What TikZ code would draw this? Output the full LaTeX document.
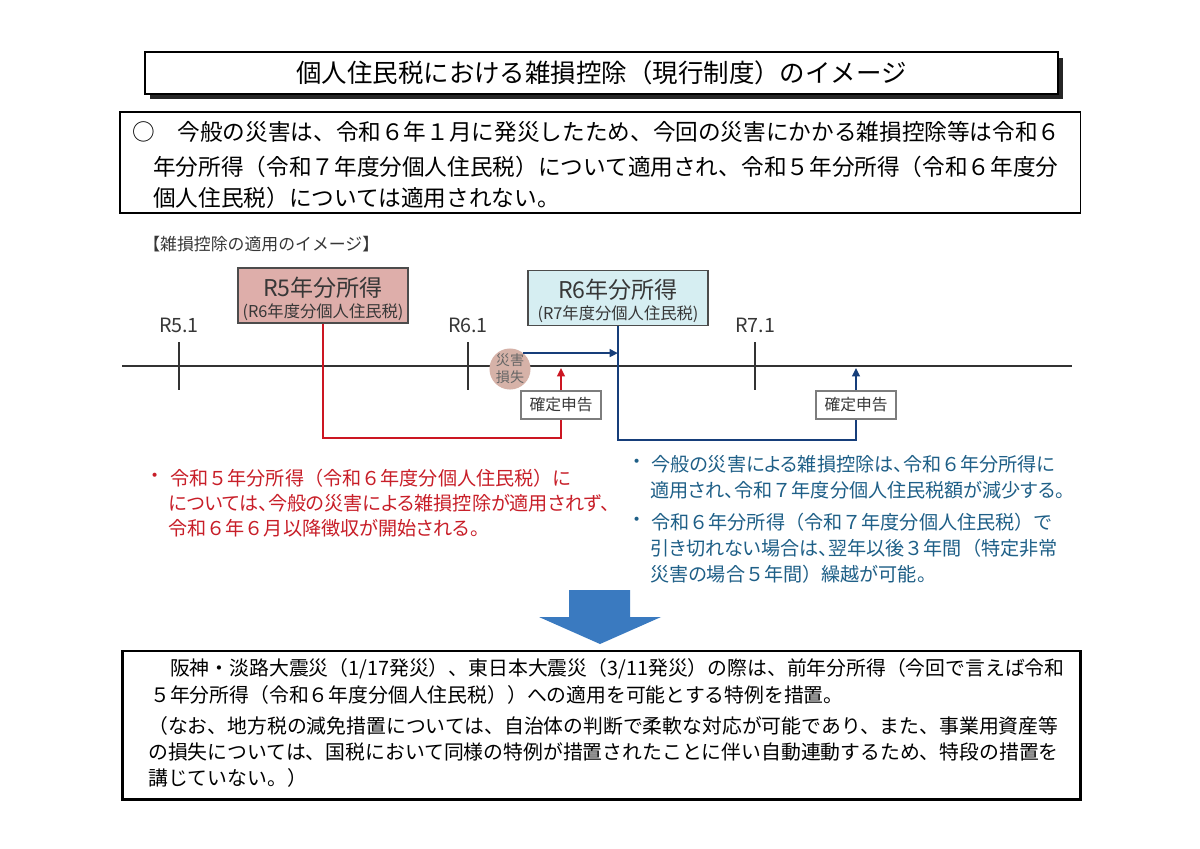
\documentclass[tikz,border=0pt]{standalone}
\usepackage{fontspec}
\setmainfont{Noto Sans CJK JP}
\newfontfamily\propjp[RawFeature=+palt]{Noto Sans CJK JP}
\newcommand\pleine[1]{{\rmfamily#1}}
\usetikzlibrary{positioning, arrows.meta, calc}
\definecolor{rosefond}{RGB}{222,174,170}
\definecolor{cyanfond}{RGB}{214,238,242}
\definecolor{rosecercle}{RGB}{214,178,168}
\definecolor{rougetrait}{RGB}{204,22,34}
\definecolor{bleutrait}{RGB}{22,62,122}
\definecolor{rougetexte}{RGB}{200,30,40}
\definecolor{bleutexte}{RGB}{30,95,135}
\definecolor{bleufleche}{RGB}{58,122,192}
\definecolor{grisboite}{RGB}{125,125,125}
\definecolor{gristexte}{RGB}{55,55,55}
\tikzset{
  ligne/.style={anchor=west, inner sep=0pt},
  cadre/.style={draw=black, inner sep=0pt},
  revenu/.style={draw=black!70, line width=0.8pt, inner sep=0pt, minimum height=1.375cm},
  declar/.style={draw=grisboite, line width=1.6pt, fill=white, minimum width=2cm, minimum height=0.7cm,
    inner sep=0pt, text=gristexte, font=\fontsize{11.2pt}{13pt}\selectfont},
  annee/.style={inner sep=0pt, text=gristexte, font=\fontsize{14pt}{16pt}\selectfont},
  trait/.style={line width=1.4pt},
  fleche/.style={line width=1.4pt, -{Triangle[length=6pt, width=5.5pt]}},
  rouge/.style={ligne, text=rougetexte, font=\propjp\fontsize{13.6pt}{16pt}\selectfont},
  bleu/.style={ligne, text=bleutexte, font=\propjp\fontsize{13.6pt}{16pt}\selectfont},
  haut/.style={ligne, font=\fontsize{16.1pt}{18pt}\selectfont},
  bas/.style={ligne, font=\fontsize{14.1pt}{16pt}\selectfont},
}

\begin{document}
\begin{tikzpicture}[x=0.025cm, y=-0.025cm]
  \useasboundingbox (0,0) rectangle (1200,848);
  \fill[white] (0,0) rectangle (1200,848);
  % titre avec ombre
  \fill[black!85] (150,58) rectangle (1063,99);
  \node[cadre, line width=1pt, fill=white, minimum width=22.825cm, minimum height=1.05cm,
    font=\fontsize{18.1pt}{20pt}\selectfont] (titre) at (601.5,73) {個人住民税における雑損控除（現行制度）のイメージ};
  % cadre du resume
  \node[cadre, line width=0.9pt, minimum width=24cm, minimum height=2.525cm] (resume) at (600,162.5) {};
  \node[haut] (h1) at (132,132) {○　今般の災害は、令和６年１月に発災したため、今回の災害にかかる雑損控除等は令和６};
  \node[haut] (h2) at (153,167) {年分所得（令和７年度分個人住民税）について適用され、令和５年分所得（令和６年度分};
  \node[haut] (h3) at (153,198) {個人住民税）については適用されない。};
  \node[ligne, text=gristexte, font=\fontsize{12pt}{14pt}\selectfont] (soustitre) at (143,244) {【雑損控除の適用のイメージ】};
  % revenus
  \node[revenu, fill=rosefond, minimum width=4.25cm] (r5) at (323,295.5) {};
  \node[text=gristexte, inner sep=0pt, font=\fontsize{16.4pt}{18pt}\selectfont] (r5a) at (323,288) {R5年分所得};
  \node[text=gristexte, inner sep=0pt, font=\fontsize{11.6pt}{13pt}\selectfont] (r5b) at (323,312) {(R6年度分個人住民税)};
  \node[revenu, fill=cyanfond, minimum width=4.5cm] (r6) at (618,298) {};
  \node[text=gristexte, inner sep=0pt, font=\fontsize{16.4pt}{18pt}\selectfont] (r6a) at (618,290) {R6年分所得};
  \node[text=gristexte, inner sep=0pt, font=\fontsize{11.6pt}{13pt}\selectfont] (r6b) at (618,314) {(R7年度分個人住民税)};
  % axe du temps
  \coordinate (debut) at (122,366);
  \coordinate (fin) at (1072,366);
  \draw[line width=1pt, black!80] (debut) -- (fin);
  \foreach \x/\lab/\nom in {179/R5.1/a5, 468/R6.1/a6, 755/R7.1/a7} {
    \draw[line width=1pt, black!80] (\x,342) -- (\x,390);
    \node[annee] (\nom) at (\x,325) {\lab};
  }
  % sinistre et declarations
  \node[circle, fill=rosecercle, minimum size=1cm, inner sep=0pt, align=center, text=black!60,
    font=\fontsize{10pt}{12pt}\selectfont] (sinistre) at (510,369) {災害\\損失};
  \node[declar] (k1) at (561,405) {確定申告};
  \node[declar] (k2) at (856,405) {確定申告};
  \coordinate (rcoin) at (561,438);
  \coordinate (bcoin) at (856,440);
  \draw[trait, rougetrait] (r5.south) |- (rcoin) -- (k1.south);
  \draw[fleche, rougetrait] (k1.north) -- ($(k1.north |- debut)+(0,2)$);
  \draw[trait, bleutrait] (r6.south) |- (bcoin) -- (k2.south);
  \draw[fleche, bleutrait] (k2.north) -- ($(k2.north |- debut)+(0,2)$);
  \draw[fleche, bleutrait] (sinistre.50) -- (sinistre.50 -| r6.south);
  % texte rouge
  \node[rouge] (rp) at (150,478) {・};
  \node[rouge] (ro1) at (170,478) {令和\pleine{５}年分所得\pleine{（}令和\pleine{６}年度分個人住民税\pleine{）}に};
  \node[rouge] (ro2) at (168,503) {については、今般の災害による雑損控除が適用されず、};
  \node[rouge] (ro3) at (168,528) {令和\pleine{６}年\pleine{６}月以降徴収が開始される。};
  % texte bleu
  \node[bleu] (bp1) at (632,464) {・};
  \node[bleu] (bl1) at (651,464) {今般の災害による雑損控除は、令和\pleine{６}年分所得に};
  \node[bleu] (bl2) at (650,490) {適用され、令和\pleine{７}年度分個人住民税額が減少する。};
  \node[bleu] (bp2) at (632,522) {・};
  \node[bleu] (bl3) at (651,522) {令和\pleine{６}年分所得\pleine{（}令和\pleine{７}年度分個人住民税\pleine{）}で};
  \node[bleu] (bl4) at (650,548) {引き切れない場合は、翌年以後\pleine{３}年間\pleine{（}特定非常};
  \node[bleu] (bl5) at (650,574) {災害の場合\pleine{５}年間\pleine{）}繰越が可能。};
  % grosse fleche
  \fill[bleufleche] (569,590) -- (630,590) -- (630,617) -- (661,617) -- (600,644) -- (539,617) -- (569,617) -- cycle;
  % cadre du bas
  \node[cadre, line width=2.1pt, minimum width=23.925cm, minimum height=3.7cm] (special) at (601.5,725) {};
  \node[bas] (b1) at (150,669) {　阪神・淡路大震災（1/17発災）、東日本大震災（3/11発災）の際は、前年分所得（今回で言えば令和};
  \node[bas] (b2) at (150,695) {５年分所得（令和６年度分個人住民税））への適用を可能とする特例を措置。};
  \node[bas] (b3) at (148,726) {（なお、地方税の減免措置については、自治体の判断で柔軟な対応が可能であり、また、事業用資産等};
  \node[bas] (b4) at (148,752) {の損失については、国税において同様の特例が措置されたことに伴い自動連動するため、特段の措置を};
  \node[bas] (b5) at (148,778) {講じていない。）};
\end{tikzpicture}
\end{document}
